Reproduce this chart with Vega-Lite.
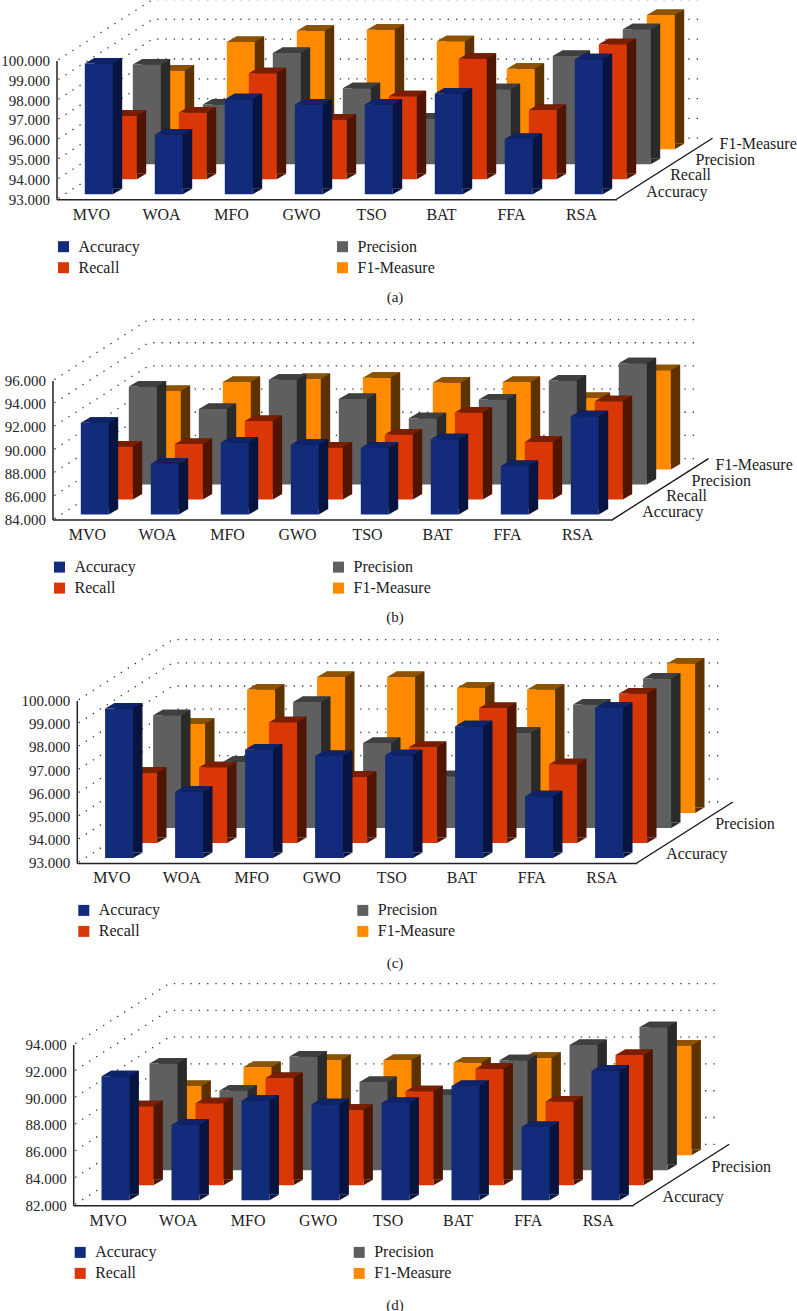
{"$schema":"https://vega.github.io/schema/vega-lite/v6.json","autosize":{"type":"pad"},"padding":{"left":0.5,"top":-3.4,"right":0,"bottom":0},"background":"white","spacing":181,"bounds":"flush","resolve":{"scale":{"color":"independent","x":"independent","y":"independent"},"legend":{"color":"independent"}},"config":{"view":{"stroke":null},"axis":{"labelFont":"Liberation Serif","titleFont":"Liberation Serif","labelColor":"#222","titleColor":"#222","grid":false,"ticks":false,"domainColor":"#222","domainWidth":1.5},"legend":{"labelFont":"Liberation Serif","labelFontSize":16,"labelColor":"#222"},"text":{"font":"Liberation Serif","fontSize":16,"color":"#222","align":"left","baseline":"middle"}},"datasets":{"a":[{"a":"MVO","m":"Accuracy","v":99.6},{"a":"WOA","m":"Accuracy","v":96.0},{"a":"MFO","m":"Accuracy","v":97.8},{"a":"GWO","m":"Accuracy","v":97.53},{"a":"TSO","m":"Accuracy","v":97.53},{"a":"BAT","m":"Accuracy","v":98.08},{"a":"FFA","m":"Accuracy","v":95.79},{"a":"RSA","m":"Accuracy","v":99.82},{"a":"MVO","m":"Recall","v":96.2},{"a":"WOA","m":"Recall","v":96.37},{"a":"MFO","m":"Recall","v":98.35},{"a":"GWO","m":"Recall","v":96.01},{"a":"TSO","m":"Recall","v":97.19},{"a":"BAT","m":"Recall","v":99.08},{"a":"FFA","m":"Recall","v":96.5},{"a":"RSA","m":"Recall","v":99.82},{"a":"MVO","m":"Precision","v":98.03},{"a":"WOA","m":"Precision","v":96.01},{"a":"MFO","m":"Precision","v":98.62},{"a":"GWO","m":"Precision","v":96.84},{"a":"TSO","m":"Precision","v":95.31},{"a":"BAT","m":"Precision","v":96.79},{"a":"FFA","m":"Precision","v":98.47},{"a":"RSA","m":"Precision","v":99.82},{"a":"MVO","m":"F1-Measure","v":96.97},{"a":"WOA","m":"F1-Measure","v":98.42},{"a":"MFO","m":"F1-Measure","v":98.98},{"a":"GWO","m":"F1-Measure","v":99.03},{"a":"TSO","m":"F1-Measure","v":98.45},{"a":"BAT","m":"F1-Measure","v":97.06},{"a":"FFA","m":"F1-Measure","v":97.0},{"a":"RSA","m":"F1-Measure","v":99.78}],"b":[{"a":"MVO","m":"Accuracy","v":91.94},{"a":"WOA","m":"Accuracy","v":88.4},{"a":"MFO","m":"Accuracy","v":90.22},{"a":"GWO","m":"Accuracy","v":90.04},{"a":"TSO","m":"Accuracy","v":89.78},{"a":"BAT","m":"Accuracy","v":90.5},{"a":"FFA","m":"Accuracy","v":88.2},{"a":"RSA","m":"Accuracy","v":92.49},{"a":"MVO","m":"Recall","v":88.58},{"a":"WOA","m":"Recall","v":88.81},{"a":"MFO","m":"Recall","v":90.79},{"a":"GWO","m":"Recall","v":88.49},{"a":"TSO","m":"Recall","v":89.61},{"a":"BAT","m":"Recall","v":91.51},{"a":"FFA","m":"Recall","v":89.0},{"a":"RSA","m":"Recall","v":92.49},{"a":"MVO","m":"Precision","v":92.46},{"a":"WOA","m":"Precision","v":90.53},{"a":"MFO","m":"Precision","v":93.06},{"a":"GWO","m":"Precision","v":91.4},{"a":"TSO","m":"Precision","v":89.73},{"a":"BAT","m":"Precision","v":91.34},{"a":"FFA","m":"Precision","v":92.98},{"a":"RSA","m":"Precision","v":94.47},{"a":"MVO","m":"F1-Measure","v":90.79},{"a":"WOA","m":"F1-Measure","v":91.57},{"a":"MFO","m":"F1-Measure","v":91.83},{"a":"GWO","m":"F1-Measure","v":91.94},{"a":"TSO","m":"F1-Measure","v":91.51},{"a":"BAT","m":"F1-Measure","v":91.57},{"a":"FFA","m":"F1-Measure","v":90.19},{"a":"RSA","m":"F1-Measure","v":92.58}],"c":[{"a":"MVO","m":"Accuracy","v":99.44},{"a":"WOA","m":"Accuracy","v":95.86},{"a":"MFO","m":"Accuracy","v":97.68},{"a":"GWO","m":"Accuracy","v":97.4},{"a":"TSO","m":"Accuracy","v":97.43},{"a":"BAT","m":"Accuracy","v":98.68},{"a":"FFA","m":"Accuracy","v":95.66},{"a":"RSA","m":"Accuracy","v":99.48},{"a":"MVO","m":"Recall","v":96.03},{"a":"WOA","m":"Recall","v":96.26},{"a":"MFO","m":"Recall","v":98.2},{"a":"GWO","m":"Recall","v":95.86},{"a":"TSO","m":"Recall","v":97.14},{"a":"BAT","m":"Recall","v":98.82},{"a":"FFA","m":"Recall","v":96.39},{"a":"RSA","m":"Recall","v":99.44},{"a":"MVO","m":"Precision","v":97.86},{"a":"WOA","m":"Precision","v":95.86},{"a":"MFO","m":"Precision","v":98.43},{"a":"GWO","m":"Precision","v":96.66},{"a":"TSO","m":"Precision","v":95.23},{"a":"BAT","m":"Precision","v":97.11},{"a":"FFA","m":"Precision","v":98.32},{"a":"RSA","m":"Precision","v":99.44},{"a":"MVO","m":"F1-Measure","v":96.85},{"a":"WOA","m":"F1-Measure","v":98.32},{"a":"MFO","m":"F1-Measure","v":98.86},{"a":"GWO","m":"F1-Measure","v":98.86},{"a":"TSO","m":"F1-Measure","v":98.4},{"a":"BAT","m":"F1-Measure","v":98.32},{"a":"FFA","m":"F1-Measure","v":97.0},{"a":"RSA","m":"F1-Measure","v":99.44}],"d":[{"a":"MVO","m":"Accuracy","v":91.26},{"a":"WOA","m":"Accuracy","v":87.65},{"a":"MFO","m":"Accuracy","v":89.44},{"a":"GWO","m":"Accuracy","v":89.17},{"a":"TSO","m":"Accuracy","v":89.27},{"a":"BAT","m":"Accuracy","v":90.54},{"a":"FFA","m":"Accuracy","v":87.48},{"a":"RSA","m":"Accuracy","v":91.68},{"a":"MVO","m":"Recall","v":87.9},{"a":"WOA","m":"Recall","v":88.12},{"a":"MFO","m":"Recall","v":90.02},{"a":"GWO","m":"Recall","v":87.65},{"a":"TSO","m":"Recall","v":89.02},{"a":"BAT","m":"Recall","v":90.71},{"a":"FFA","m":"Recall","v":88.25},{"a":"RSA","m":"Recall","v":91.73},{"a":"MVO","m":"Precision","v":89.97},{"a":"WOA","m":"Precision","v":87.95},{"a":"MFO","m":"Precision","v":90.49},{"a":"GWO","m":"Precision","v":88.6},{"a":"TSO","m":"Precision","v":87.63},{"a":"BAT","m":"Precision","v":90.22},{"a":"FFA","m":"Precision","v":91.36},{"a":"RSA","m":"Precision","v":92.68},{"a":"MVO","m":"F1-Measure","v":87.18},{"a":"WOA","m":"F1-Measure","v":88.6},{"a":"MFO","m":"F1-Measure","v":89.12},{"a":"GWO","m":"F1-Measure","v":89.12},{"a":"TSO","m":"F1-Measure","v":88.92},{"a":"BAT","m":"F1-Measure","v":89.29},{"a":"FFA","m":"F1-Measure","v":88.0},{"a":"RSA","m":"F1-Measure","v":90.19}]},"vconcat":[
{"width":600,"height":138.6,"data":{"name":"a"},"encoding":{"x":{"field":"a","type":"nominal","sort":null,"scale":{"domain":["MVO","WOA","MFO","GWO","TSO","BAT","FFA","RSA"],"range":[4,564]},"axis":{"labelAngle":0,"labelFontSize":16,"labelPadding":7,"title":"(a)","titleFontSize":15,"titleFontWeight":"normal","titleX":342,"titleY":97,"titleBaseline":"middle","titleAlign":"center"}},"y":{"field":"v","type":"quantitative","scale":{"domain":[93,100],"zero":false,"nice":false},"axis":{"title":null,"values":[93,94,95,96,97,98,99,100],"format":".3f","labelFontSize":15,"labelPadding":7,"offset":-4}}},"layer":[
{"data":{"values":[{"t":93},{"t":94},{"t":95},{"t":96},{"t":97},{"t":98},{"t":99},{"t":100}]},"mark":{"type":"point","shape":"M-33 -1L61 -61L610 -61","size":4,"filled":false,"opacity":1,"stroke":"#333","strokeDash":[1.3,7],"strokeWidth":1.3},"encoding":{"x":{"datum":"MVO","type":"nominal"},"y":{"field":"t","type":"quantitative"}}},
{"transform":[{"filter":"datum.m=='F1-Measure'"}],"layer":[{"mark":{"type":"bar","size":28,"color":"#5C3300","xOffset":88.7,"yOffset":-55.5,"y2Offset":-55.5},"encoding":{"y2":{"datum":93}}},{"mark":{"type":"point","shape":"M14 0L23.4 -5.5L14 -5.5Z","size":4,"filled":true,"opacity":1,"color":"#5C3300","xOffset":79.3,"yOffset":-50},"encoding":{"y":{"datum":93}}},{"mark":{"type":"bar","size":28,"xOffset":79.3,"yOffset":-50,"y2Offset":-50},"encoding":{"y2":{"datum":93},"color":{"field":"m","scale":{"domain":["Accuracy","Recall","Precision","F1-Measure"],"range":["#122B7A","#D93706","#5F5F5F","#FF8A00"]},"legend":{"title":null,"orient":"none","legendX":3,"legendY":178.1,"columns":2,"columnPadding":194,"rowPadding":5,"symbolType":"square","symbolSize":121,"symbolStrokeWidth":0,"labelOffset":7}}}},{"mark":{"type":"point","shape":"M-14 0L14 0L23.4 -5.5L-4.6 -5.5Z","size":4,"filled":true,"opacity":1,"color":"#8C5200","xOffset":79.3,"yOffset":-50}}]},
{"transform":[{"filter":"datum.m=='Precision'"}],"layer":[{"mark":{"type":"bar","size":28,"color":"#2A2A2A","xOffset":64.7,"yOffset":-40.5,"y2Offset":-40.5},"encoding":{"y2":{"datum":93}}},{"mark":{"type":"point","shape":"M14 0L23.4 -5.5L14 -5.5Z","size":4,"filled":true,"opacity":1,"color":"#2A2A2A","xOffset":55.3,"yOffset":-35},"encoding":{"y":{"datum":93}}},{"mark":{"type":"bar","size":28,"xOffset":55.3,"yOffset":-35,"y2Offset":-35},"encoding":{"y2":{"datum":93},"color":{"field":"m","legend":null}}},{"mark":{"type":"point","shape":"M-14 0L14 0L23.4 -5.5L-4.6 -5.5Z","size":4,"filled":true,"opacity":1,"color":"#3F3F3F","xOffset":55.3,"yOffset":-35}}]},
{"transform":[{"filter":"datum.m=='Recall'"}],"layer":[{"mark":{"type":"bar","size":28,"color":"#4E1500","xOffset":40.7,"yOffset":-25.5,"y2Offset":-25.5},"encoding":{"y2":{"datum":93}}},{"mark":{"type":"point","shape":"M14 0L23.4 -5.5L14 -5.5Z","size":4,"filled":true,"opacity":1,"color":"#4E1500","xOffset":31.3,"yOffset":-20},"encoding":{"y":{"datum":93}}},{"mark":{"type":"bar","size":28,"xOffset":31.3,"yOffset":-20,"y2Offset":-20},"encoding":{"y2":{"datum":93},"color":{"field":"m","legend":null}}},{"mark":{"type":"point","shape":"M-14 0L14 0L23.4 -5.5L-4.6 -5.5Z","size":4,"filled":true,"opacity":1,"color":"#7A1E00","xOffset":31.3,"yOffset":-20}}]},
{"transform":[{"filter":"datum.m=='Accuracy'"}],"layer":[{"mark":{"type":"bar","size":28,"color":"#06143F","xOffset":16.7,"yOffset":-10.5,"y2Offset":-10.5},"encoding":{"y2":{"datum":93}}},{"mark":{"type":"point","shape":"M14 0L23.4 -5.5L14 -5.5Z","size":4,"filled":true,"opacity":1,"color":"#06143F","xOffset":7.3,"yOffset":-5},"encoding":{"y":{"datum":93}}},{"mark":{"type":"bar","size":28,"xOffset":7.3,"yOffset":-5,"y2Offset":-5},"encoding":{"y2":{"datum":93},"color":{"field":"m","legend":null}}},{"mark":{"type":"point","shape":"M-14 0L14 0L23.4 -5.5L-4.6 -5.5Z","size":4,"filled":true,"opacity":1,"color":"#0F2368","xOffset":7.3,"yOffset":-5}}]},
{"data":{"values":[{"a":"RSA","v":93}]},"mark":{"type":"point","shape":"M35 0L131 -61","size":4,"filled":false,"opacity":1,"stroke":"#111","strokeWidth":1.3}},
{"data":{"values":[{"a":"RSA","v":93,"t":"Accuracy"}]},"mark":{"type":"text","xOffset":64.7,"yOffset":-7.3},"encoding":{"text":{"field":"t"}}},
{"data":{"values":[{"a":"RSA","v":93,"t":"Recall"}]},"mark":{"type":"text","xOffset":88.7,"yOffset":-24},"encoding":{"text":{"field":"t"}}},
{"data":{"values":[{"a":"RSA","v":93,"t":"Precision"}]},"mark":{"type":"text","xOffset":114,"yOffset":-39},"encoding":{"text":{"field":"t"}}},
{"data":{"values":[{"a":"RSA","v":93,"t":"F1-Measure"}]},"mark":{"type":"text","xOffset":138,"yOffset":-55},"encoding":{"text":{"field":"t"}}}
]},
{"width":600,"height":139,"data":{"name":"b"},"encoding":{"x":{"field":"a","type":"nominal","sort":null,"scale":{"domain":["MVO","WOA","MFO","GWO","TSO","BAT","FFA","RSA"],"range":[0,560]},"axis":{"labelAngle":0,"labelFontSize":16,"labelPadding":7,"title":"(b)","titleFontSize":15,"titleFontWeight":"normal","titleX":342,"titleY":97,"titleBaseline":"middle","titleAlign":"center"}},"y":{"field":"v","type":"quantitative","scale":{"domain":[84,96],"zero":false,"nice":false},"axis":{"title":null,"values":[84,86,88,90,92,94,96],"format":".3f","labelFontSize":15,"labelPadding":7}}},"layer":[
{"data":{"values":[{"t":84},{"t":86},{"t":88},{"t":90},{"t":92},{"t":94},{"t":96}]},"mark":{"type":"point","shape":"M-33 -1L61 -61L610 -61","size":4,"filled":false,"opacity":1,"stroke":"#333","strokeDash":[1.3,7],"strokeWidth":1.3},"encoding":{"x":{"datum":"MVO","type":"nominal"},"y":{"field":"t","type":"quantitative"}}},
{"transform":[{"filter":"datum.m=='F1-Measure'"}],"layer":[{"mark":{"type":"bar","size":28,"color":"#5C3300","xOffset":88.7,"yOffset":-55.5,"y2Offset":-55.5},"encoding":{"y2":{"datum":84}}},{"mark":{"type":"point","shape":"M14 0L23.4 -5.5L14 -5.5Z","size":4,"filled":true,"opacity":1,"color":"#5C3300","xOffset":79.3,"yOffset":-50},"encoding":{"y":{"datum":84}}},{"mark":{"type":"bar","size":28,"xOffset":79.3,"yOffset":-50,"y2Offset":-50},"encoding":{"y2":{"datum":84},"color":{"field":"m","scale":{"domain":["Accuracy","Recall","Precision","F1-Measure"],"range":["#122B7A","#D93706","#5F5F5F","#FF8A00"]},"legend":{"title":null,"orient":"none","legendX":-1,"legendY":178.5,"columns":2,"columnPadding":194,"rowPadding":5,"symbolType":"square","symbolSize":121,"symbolStrokeWidth":0,"labelOffset":7}}}},{"mark":{"type":"point","shape":"M-14 0L14 0L23.4 -5.5L-4.6 -5.5Z","size":4,"filled":true,"opacity":1,"color":"#8C5200","xOffset":79.3,"yOffset":-50}}]},
{"transform":[{"filter":"datum.m=='Precision'"}],"layer":[{"mark":{"type":"bar","size":28,"color":"#2A2A2A","xOffset":64.7,"yOffset":-40.5,"y2Offset":-40.5},"encoding":{"y2":{"datum":84}}},{"mark":{"type":"point","shape":"M14 0L23.4 -5.5L14 -5.5Z","size":4,"filled":true,"opacity":1,"color":"#2A2A2A","xOffset":55.3,"yOffset":-35},"encoding":{"y":{"datum":84}}},{"mark":{"type":"bar","size":28,"xOffset":55.3,"yOffset":-35,"y2Offset":-35},"encoding":{"y2":{"datum":84},"color":{"field":"m","legend":null}}},{"mark":{"type":"point","shape":"M-14 0L14 0L23.4 -5.5L-4.6 -5.5Z","size":4,"filled":true,"opacity":1,"color":"#3F3F3F","xOffset":55.3,"yOffset":-35}}]},
{"transform":[{"filter":"datum.m=='Recall'"}],"layer":[{"mark":{"type":"bar","size":28,"color":"#4E1500","xOffset":40.7,"yOffset":-25.5,"y2Offset":-25.5},"encoding":{"y2":{"datum":84}}},{"mark":{"type":"point","shape":"M14 0L23.4 -5.5L14 -5.5Z","size":4,"filled":true,"opacity":1,"color":"#4E1500","xOffset":31.3,"yOffset":-20},"encoding":{"y":{"datum":84}}},{"mark":{"type":"bar","size":28,"xOffset":31.3,"yOffset":-20,"y2Offset":-20},"encoding":{"y2":{"datum":84},"color":{"field":"m","legend":null}}},{"mark":{"type":"point","shape":"M-14 0L14 0L23.4 -5.5L-4.6 -5.5Z","size":4,"filled":true,"opacity":1,"color":"#7A1E00","xOffset":31.3,"yOffset":-20}}]},
{"transform":[{"filter":"datum.m=='Accuracy'"}],"layer":[{"mark":{"type":"bar","size":28,"color":"#06143F","xOffset":16.7,"yOffset":-10.5,"y2Offset":-10.5},"encoding":{"y2":{"datum":84}}},{"mark":{"type":"point","shape":"M14 0L23.4 -5.5L14 -5.5Z","size":4,"filled":true,"opacity":1,"color":"#06143F","xOffset":7.3,"yOffset":-5},"encoding":{"y":{"datum":84}}},{"mark":{"type":"bar","size":28,"xOffset":7.3,"yOffset":-5,"y2Offset":-5},"encoding":{"y2":{"datum":84},"color":{"field":"m","legend":null}}},{"mark":{"type":"point","shape":"M-14 0L14 0L23.4 -5.5L-4.6 -5.5Z","size":4,"filled":true,"opacity":1,"color":"#0F2368","xOffset":7.3,"yOffset":-5}}]},
{"data":{"values":[{"a":"RSA","v":84}]},"mark":{"type":"point","shape":"M35 0L131 -61","size":4,"filled":false,"opacity":1,"stroke":"#111","strokeWidth":1.3}},
{"data":{"values":[{"a":"RSA","v":84,"t":"Accuracy"}]},"mark":{"type":"text","xOffset":64.7,"yOffset":-7.3},"encoding":{"text":{"field":"t"}}},
{"data":{"values":[{"a":"RSA","v":84,"t":"Recall"}]},"mark":{"type":"text","xOffset":88.7,"yOffset":-24},"encoding":{"text":{"field":"t"}}},
{"data":{"values":[{"a":"RSA","v":84,"t":"Precision"}]},"mark":{"type":"text","xOffset":114,"yOffset":-39},"encoding":{"text":{"field":"t"}}},
{"data":{"values":[{"a":"RSA","v":84,"t":"F1-Measure"}]},"mark":{"type":"text","xOffset":138,"yOffset":-55},"encoding":{"text":{"field":"t"}}}
]},
{"width":600,"height":162.4,"data":{"name":"c"},"encoding":{"x":{"field":"a","type":"nominal","sort":null,"scale":{"domain":["MVO","WOA","MFO","GWO","TSO","BAT","FFA","RSA"],"range":[24.3,584.3]},"axis":{"labelAngle":0,"labelFontSize":16,"labelPadding":7,"title":"(c)","titleFontSize":15,"titleFontWeight":"normal","titleX":342,"titleY":99.6,"titleBaseline":"middle","titleAlign":"center"}},"y":{"field":"v","type":"quantitative","scale":{"domain":[93,100],"zero":false,"nice":false},"axis":{"title":null,"values":[93,94,95,96,97,98,99,100],"format":".3f","labelFontSize":15,"labelPadding":7,"offset":-24.3}}},"layer":[
{"data":{"values":[{"t":93},{"t":94},{"t":95},{"t":96},{"t":97},{"t":98},{"t":99},{"t":100}]},"mark":{"type":"point","shape":"M-33 -1L61 -61L610 -61","size":4,"filled":false,"opacity":1,"stroke":"#333","strokeDash":[1.3,7],"strokeWidth":1.3},"encoding":{"x":{"datum":"MVO","type":"nominal"},"y":{"field":"t","type":"quantitative"}}},
{"transform":[{"filter":"datum.m=='F1-Measure'"}],"layer":[{"mark":{"type":"bar","size":28,"color":"#5C3300","xOffset":88.7,"yOffset":-55.5,"y2Offset":-55.5},"encoding":{"y2":{"datum":93}}},{"mark":{"type":"point","shape":"M14 0L23.4 -5.5L14 -5.5Z","size":4,"filled":true,"opacity":1,"color":"#5C3300","xOffset":79.3,"yOffset":-50},"encoding":{"y":{"datum":93}}},{"mark":{"type":"bar","size":28,"xOffset":79.3,"yOffset":-50,"y2Offset":-50},"encoding":{"y2":{"datum":93},"color":{"field":"m","scale":{"domain":["Accuracy","Recall","Precision","F1-Measure"],"range":["#122B7A","#D93706","#5F5F5F","#FF8A00"]},"legend":{"title":null,"orient":"none","legendX":23.3,"legendY":201.8,"columns":2,"columnPadding":194,"rowPadding":5,"symbolType":"square","symbolSize":121,"symbolStrokeWidth":0,"labelOffset":7}}}},{"mark":{"type":"point","shape":"M-14 0L14 0L23.4 -5.5L-4.6 -5.5Z","size":4,"filled":true,"opacity":1,"color":"#8C5200","xOffset":79.3,"yOffset":-50}}]},
{"transform":[{"filter":"datum.m=='Precision'"}],"layer":[{"mark":{"type":"bar","size":28,"color":"#2A2A2A","xOffset":64.7,"yOffset":-40.5,"y2Offset":-40.5},"encoding":{"y2":{"datum":93}}},{"mark":{"type":"point","shape":"M14 0L23.4 -5.5L14 -5.5Z","size":4,"filled":true,"opacity":1,"color":"#2A2A2A","xOffset":55.3,"yOffset":-35},"encoding":{"y":{"datum":93}}},{"mark":{"type":"bar","size":28,"xOffset":55.3,"yOffset":-35,"y2Offset":-35},"encoding":{"y2":{"datum":93},"color":{"field":"m","legend":null}}},{"mark":{"type":"point","shape":"M-14 0L14 0L23.4 -5.5L-4.6 -5.5Z","size":4,"filled":true,"opacity":1,"color":"#3F3F3F","xOffset":55.3,"yOffset":-35}}]},
{"transform":[{"filter":"datum.m=='Recall'"}],"layer":[{"mark":{"type":"bar","size":28,"color":"#4E1500","xOffset":40.7,"yOffset":-25.5,"y2Offset":-25.5},"encoding":{"y2":{"datum":93}}},{"mark":{"type":"point","shape":"M14 0L23.4 -5.5L14 -5.5Z","size":4,"filled":true,"opacity":1,"color":"#4E1500","xOffset":31.3,"yOffset":-20},"encoding":{"y":{"datum":93}}},{"mark":{"type":"bar","size":28,"xOffset":31.3,"yOffset":-20,"y2Offset":-20},"encoding":{"y2":{"datum":93},"color":{"field":"m","legend":null}}},{"mark":{"type":"point","shape":"M-14 0L14 0L23.4 -5.5L-4.6 -5.5Z","size":4,"filled":true,"opacity":1,"color":"#7A1E00","xOffset":31.3,"yOffset":-20}}]},
{"transform":[{"filter":"datum.m=='Accuracy'"}],"layer":[{"mark":{"type":"bar","size":28,"color":"#06143F","xOffset":16.7,"yOffset":-10.5,"y2Offset":-10.5},"encoding":{"y2":{"datum":93}}},{"mark":{"type":"point","shape":"M14 0L23.4 -5.5L14 -5.5Z","size":4,"filled":true,"opacity":1,"color":"#06143F","xOffset":7.3,"yOffset":-5},"encoding":{"y":{"datum":93}}},{"mark":{"type":"bar","size":28,"xOffset":7.3,"yOffset":-5,"y2Offset":-5},"encoding":{"y2":{"datum":93},"color":{"field":"m","legend":null}}},{"mark":{"type":"point","shape":"M-14 0L14 0L23.4 -5.5L-4.6 -5.5Z","size":4,"filled":true,"opacity":1,"color":"#0F2368","xOffset":7.3,"yOffset":-5}}]},
{"data":{"values":[{"a":"RSA","v":93}]},"mark":{"type":"point","shape":"M35 0L131 -61","size":4,"filled":false,"opacity":1,"stroke":"#111","strokeWidth":1.3}},
{"data":{"values":[{"a":"RSA","v":93,"t":"Accuracy"}]},"mark":{"type":"text","xOffset":64.4,"yOffset":-8.7},"encoding":{"text":{"field":"t"}}},
{"data":{"values":[{"a":"RSA","v":93,"t":"Precision"}]},"mark":{"type":"text","xOffset":113.4,"yOffset":-38.7},"encoding":{"text":{"field":"t"}}}
]},
{"width":600,"height":160.7,"data":{"name":"d"},"encoding":{"x":{"field":"a","type":"nominal","sort":null,"scale":{"domain":["MVO","WOA","MFO","GWO","TSO","BAT","FFA","RSA"],"range":[20.7,580.7]},"axis":{"labelAngle":0,"labelFontSize":16,"labelPadding":7,"title":"(d)","titleFontSize":15,"titleFontWeight":"normal","titleX":342,"titleY":99,"titleBaseline":"middle","titleAlign":"center"}},"y":{"field":"v","type":"quantitative","scale":{"domain":[82,94],"zero":false,"nice":false},"axis":{"title":null,"values":[82,84,86,88,90,92,94],"format":".3f","labelFontSize":15,"labelPadding":7,"offset":-20.7}}},"layer":[
{"data":{"values":[{"t":82},{"t":84},{"t":86},{"t":88},{"t":90},{"t":92},{"t":94}]},"mark":{"type":"point","shape":"M-33 -1L61 -61L610 -61","size":4,"filled":false,"opacity":1,"stroke":"#333","strokeDash":[1.3,7],"strokeWidth":1.3},"encoding":{"x":{"datum":"MVO","type":"nominal"},"y":{"field":"t","type":"quantitative"}}},
{"transform":[{"filter":"datum.m=='F1-Measure'"}],"layer":[{"mark":{"type":"bar","size":28,"color":"#5C3300","xOffset":88.7,"yOffset":-55.5,"y2Offset":-55.5},"encoding":{"y2":{"datum":82}}},{"mark":{"type":"point","shape":"M14 0L23.4 -5.5L14 -5.5Z","size":4,"filled":true,"opacity":1,"color":"#5C3300","xOffset":79.3,"yOffset":-50},"encoding":{"y":{"datum":82}}},{"mark":{"type":"bar","size":28,"xOffset":79.3,"yOffset":-50,"y2Offset":-50},"encoding":{"y2":{"datum":82},"color":{"field":"m","scale":{"domain":["Accuracy","Recall","Precision","F1-Measure"],"range":["#122B7A","#D93706","#5F5F5F","#FF8A00"]},"legend":{"title":null,"orient":"none","legendX":19.7,"legendY":199.8,"columns":2,"columnPadding":194,"rowPadding":5,"symbolType":"square","symbolSize":121,"symbolStrokeWidth":0,"labelOffset":7}}}},{"mark":{"type":"point","shape":"M-14 0L14 0L23.4 -5.5L-4.6 -5.5Z","size":4,"filled":true,"opacity":1,"color":"#8C5200","xOffset":79.3,"yOffset":-50}}]},
{"transform":[{"filter":"datum.m=='Precision'"}],"layer":[{"mark":{"type":"bar","size":28,"color":"#2A2A2A","xOffset":64.7,"yOffset":-40.5,"y2Offset":-40.5},"encoding":{"y2":{"datum":82}}},{"mark":{"type":"point","shape":"M14 0L23.4 -5.5L14 -5.5Z","size":4,"filled":true,"opacity":1,"color":"#2A2A2A","xOffset":55.3,"yOffset":-35},"encoding":{"y":{"datum":82}}},{"mark":{"type":"bar","size":28,"xOffset":55.3,"yOffset":-35,"y2Offset":-35},"encoding":{"y2":{"datum":82},"color":{"field":"m","legend":null}}},{"mark":{"type":"point","shape":"M-14 0L14 0L23.4 -5.5L-4.6 -5.5Z","size":4,"filled":true,"opacity":1,"color":"#3F3F3F","xOffset":55.3,"yOffset":-35}}]},
{"transform":[{"filter":"datum.m=='Recall'"}],"layer":[{"mark":{"type":"bar","size":28,"color":"#4E1500","xOffset":40.7,"yOffset":-25.5,"y2Offset":-25.5},"encoding":{"y2":{"datum":82}}},{"mark":{"type":"point","shape":"M14 0L23.4 -5.5L14 -5.5Z","size":4,"filled":true,"opacity":1,"color":"#4E1500","xOffset":31.3,"yOffset":-20},"encoding":{"y":{"datum":82}}},{"mark":{"type":"bar","size":28,"xOffset":31.3,"yOffset":-20,"y2Offset":-20},"encoding":{"y2":{"datum":82},"color":{"field":"m","legend":null}}},{"mark":{"type":"point","shape":"M-14 0L14 0L23.4 -5.5L-4.6 -5.5Z","size":4,"filled":true,"opacity":1,"color":"#7A1E00","xOffset":31.3,"yOffset":-20}}]},
{"transform":[{"filter":"datum.m=='Accuracy'"}],"layer":[{"mark":{"type":"bar","size":28,"color":"#06143F","xOffset":16.7,"yOffset":-10.5,"y2Offset":-10.5},"encoding":{"y2":{"datum":82}}},{"mark":{"type":"point","shape":"M14 0L23.4 -5.5L14 -5.5Z","size":4,"filled":true,"opacity":1,"color":"#06143F","xOffset":7.3,"yOffset":-5},"encoding":{"y":{"datum":82}}},{"mark":{"type":"bar","size":28,"xOffset":7.3,"yOffset":-5,"y2Offset":-5},"encoding":{"y2":{"datum":82},"color":{"field":"m","legend":null}}},{"mark":{"type":"point","shape":"M-14 0L14 0L23.4 -5.5L-4.6 -5.5Z","size":4,"filled":true,"opacity":1,"color":"#0F2368","xOffset":7.3,"yOffset":-5}}]},
{"data":{"values":[{"a":"RSA","v":82}]},"mark":{"type":"point","shape":"M35 0L131 -61","size":4,"filled":false,"opacity":1,"stroke":"#111","strokeWidth":1.3}},
{"data":{"values":[{"a":"RSA","v":82,"t":"Accuracy"}]},"mark":{"type":"text","xOffset":64.4,"yOffset":-8.7},"encoding":{"text":{"field":"t"}}},
{"data":{"values":[{"a":"RSA","v":82,"t":"Precision"}]},"mark":{"type":"text","xOffset":113.4,"yOffset":-38.7},"encoding":{"text":{"field":"t"}}}
]}
]}
